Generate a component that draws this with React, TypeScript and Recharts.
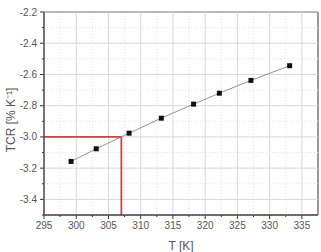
import React from 'react';
import { ComposedChart, Line, XAxis, YAxis, ReferenceLine, ReferenceArea } from 'recharts';

const temps = [299.2, 303.1, 308.2, 313.2, 318.2, 322.2, 327.1, 333.1];
const tcrValues = [-3.157, -3.076, -2.976, -2.88, -2.79, -2.72, -2.638, -2.544];
const xTicks = [295, 297.5, 300, 302.5, 305, 307.5, 310, 312.5, 315, 317.5, 320, 322.5, 325, 327.5, 330, 332.5, 335];
const yTicks = [-3.5, -3.4, -3.3, -3.2, -3.1, -3.0, -2.9, -2.8, -2.7, -2.6, -2.5, -2.4, -2.3, -2.2];
const crossT = 307;
const crossTCR = -3.0;

const data = temps.map((t, i) => ({ t, tcr: tcrValues[i] }));

const isMajorX = (v: number) => v % 5 === 0;
const isMajorY = (v: number) => Math.round(v * 10) % 2 === 0;

const XTick = (props: any) => {
  const { x, y, payload } = props;
  const major = isMajorX(payload.value);
  return (
    <g>
      <line x1={x} x2={x} y1={y} y2={y + (major ? 4 : 2)} stroke="#333" />
      {major && (
        <text x={x} y={y + 14} textAnchor="middle" fill="#555" fontSize={10}>
          {payload.value}
        </text>
      )}
    </g>
  );
};

const YTick = (props: any) => {
  const { x, y, payload } = props;
  const major = isMajorY(payload.value);
  return (
    <g>
      <line x1={x} x2={x - (major ? 4 : 2)} y1={y} y2={y} stroke="#333" />
      {major && (
        <text x={x - 7} y={y + 3.5} textAnchor="end" fill="#555" fontSize={10}>
          {payload.value.toFixed(1)}
        </text>
      )}
    </g>
  );
};

const SquareDot = (props: any) => {
  const { cx, cy } = props;
  if (cx == null || cy == null) return null;
  return <rect x={cx - 2.5} y={cy - 2.5} width={5} height={5} fill="#111" />;
};

const YLabel = () => (
  <text transform="translate(15,120) rotate(-90)" textAnchor="middle" fill="#555" fontSize={12}>
    TCR [% K⁻¹]
  </text>
);

export default function App() {
  return (
    <div style={{ position: 'absolute', left: 0, top: 0, fontFamily: '"Liberation Sans", Arial, sans-serif' }}>
      <ComposedChart width={321} height={252} data={data} margin={{ top: 12, right: 3, left: 0, bottom: 0 }}>
        <XAxis
          dataKey="t"
          type="number"
          domain={[295, 337.5]}
          ticks={xTicks}
          interval={0}
          tickSize={0}
          tickMargin={0}
          tickLine={false}
          axisLine={{ stroke: '#333' }}
          tick={<XTick />}
          height={37}
          label={{ value: 'T [K]', position: 'insideBottom', offset: 2, fill: '#555', fontSize: 12 }}
        />
        <YAxis
          type="number"
          domain={[-3.5, -2.2]}
          ticks={yTicks}
          interval={0}
          tickSize={0}
          tickMargin={0}
          tickLine={false}
          axisLine={{ stroke: '#333' }}
          tick={<YTick />}
          width={44}
          label={{ content: <YLabel /> }}
        />
        {xTicks.map((v) => (
          <ReferenceLine
            key={'gx' + v}
            x={v}
            stroke={isMajorX(v) ? '#d8d8d8' : '#e4e4e4'}
            strokeDasharray={isMajorX(v) ? undefined : '1 2'}
          />
        ))}
        {yTicks.map((v) => (
          <ReferenceLine
            key={'gy' + v}
            y={v}
            stroke={isMajorY(v) ? '#d8d8d8' : '#e4e4e4'}
            strokeDasharray={isMajorY(v) ? undefined : '1 2'}
          />
        ))}
        <ReferenceLine segment={[{ x: 295, y: crossTCR }, { x: crossT, y: crossTCR }]} stroke="#dc3c3c" strokeWidth={1.8} />
        <ReferenceLine segment={[{ x: crossT, y: crossTCR }, { x: crossT, y: -3.5 }]} stroke="#dc3c3c" strokeWidth={1.8} />
        <Line dataKey="tcr" stroke="#777" strokeWidth={0.8} dot={<SquareDot />} isAnimationActive={false} />
        <ReferenceArea x1={295} x2={337.5} y1={-3.5} y2={-2.2} fill="none" stroke="#333" strokeWidth={1} />
      </ComposedChart>
    </div>
  );
}
